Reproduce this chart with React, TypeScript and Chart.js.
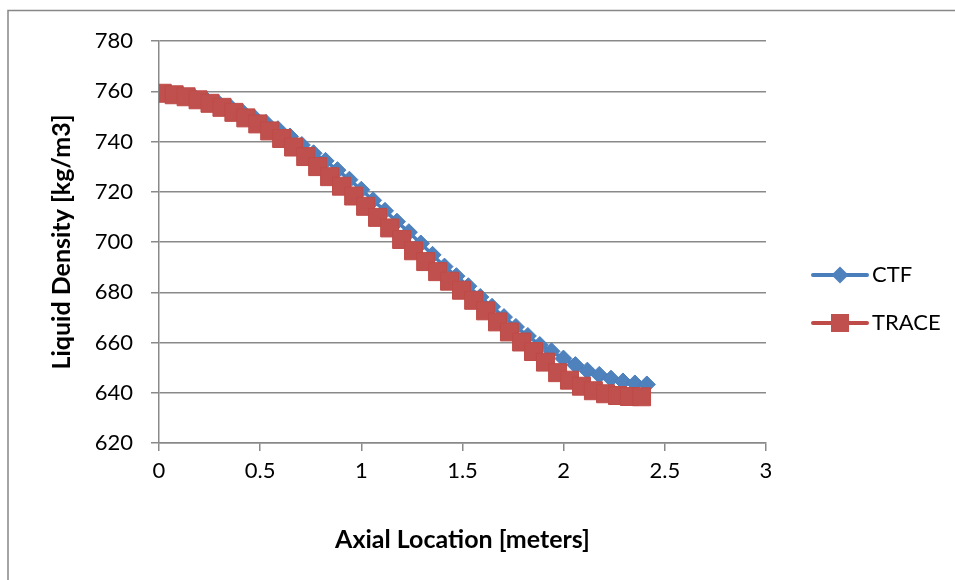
import React, { useEffect, useRef } from "react";
import { Chart, registerables } from "chart.js";

Chart.register(...registerables);

const ctfX = [0, 0.059, 0.118, 0.176, 0.235, 0.294, 0.353, 0.412, 0.470, 0.529, 0.588, 0.647, 0.706, 0.764, 0.823, 0.882, 0.941, 1.000, 1.058, 1.117, 1.176, 1.235, 1.294, 1.352, 1.411, 1.470, 1.529, 1.588, 1.646, 1.705, 1.764, 1.823, 1.882, 1.940, 1.999, 2.058, 2.117, 2.176, 2.234, 2.293, 2.352, 2.411];
const ctfY = [759.2, 758.9, 758.3, 757.5, 756.5, 755.2, 753.6, 751.7, 749.6, 747.4, 744.9, 742.0, 738.6, 735.3, 732.3, 728.6, 724.8, 720.8, 716.6, 712.4, 708.1, 703.9, 699.4, 694.9, 690.2, 686.4, 682.4, 678.1, 674.2, 670.1, 666.2, 662.6, 659.0, 656.5, 653.6, 651.0, 648.8, 647.1, 645.6, 644.5, 643.7, 643.3];

const traceX = [0.016, 0.075, 0.134, 0.193, 0.252, 0.311, 0.370, 0.429, 0.488, 0.547, 0.606, 0.665, 0.725, 0.784, 0.843, 0.902, 0.962, 1.021, 1.080, 1.140, 1.199, 1.258, 1.318, 1.377, 1.436, 1.495, 1.555, 1.614, 1.673, 1.732, 1.792, 1.851, 1.910, 1.970, 2.029, 2.088, 2.147, 2.207, 2.266, 2.325, 2.385];
const traceY = [759.2, 758.6, 757.8, 756.6, 755.2, 753.6, 751.6, 749.4, 747.0, 744.2, 741.2, 737.8, 734.0, 730.0, 726.0, 722.2, 718.3, 714.2, 709.8, 705.6, 701.0, 696.5, 692.2, 688.2, 684.4, 680.8, 676.8, 672.6, 668.2, 664.2, 660.2, 656.4, 652.2, 648.0, 645.0, 642.6, 640.8, 639.6, 638.9, 638.5, 638.4];

const seriesNames = ["CTF", "TRACE"];
const xTitle = "Axial Location [meters]";
const yTitle = "Liquid Density [kg/m3]";
const xMin = 0, xMax = 3, xStep = 0.5;
const yMin = 620, yMax = 780, yStep = 20;

const BLUE = "#4A7EBB";
const BLUE_FILL = "#4F81BD";
const RED = "#BE4B48";
const RED_FILL = "#C0504D";
const GRID = "#898989";
const FONT = "Lato, 'Open Sans', sans-serif";

export default function App() {
  const ref = useRef<HTMLCanvasElement | null>(null);

  useEffect(() => {
    if (!ref.current) return;

    const decor = {
      id: "decor",
      afterDraw(chart: any) {
        const ctx = chart.ctx;
        ctx.save();
        // outer frame (top and left visible)
        ctx.strokeStyle = "#878787";
        ctx.lineWidth = 1.5;
        ctx.beginPath();
        ctx.moveTo(8, 700);
        ctx.lineTo(8, 10.5);
        ctx.lineTo(1200, 10.5);
        ctx.stroke();

        // legend
        const items = [
          { name: seriesNames[0], color: BLUE, fill: BLUE_FILL, style: "diamond", y: 275 },
          { name: seriesNames[1], color: RED, fill: RED_FILL, style: "square", y: 323 },
        ];
        items.forEach((it) => {
          ctx.strokeStyle = it.color;
          ctx.lineWidth = 4;
          ctx.lineCap = "round";
          ctx.beginPath();
          ctx.moveTo(813, it.y);
          ctx.lineTo(867, it.y);
          ctx.stroke();
          ctx.fillStyle = it.fill;
          ctx.beginPath();
          if (it.style === "diamond") {
            const r = 8.5;
            ctx.moveTo(840 - r, it.y);
            ctx.lineTo(840, it.y - r);
            ctx.lineTo(840 + r, it.y);
            ctx.lineTo(840, it.y + r);
            ctx.closePath();
          } else {
            ctx.rect(840 - 9, it.y - 9, 18, 18);
          }
          ctx.fill();
          ctx.fillStyle = "#000";
          ctx.font = `22px ${FONT}`;
          ctx.textAlign = "left";
          ctx.textBaseline = "middle";
          ctx.fillText(it.name, 872, it.y);
        });
        ctx.restore();
      },
    };

    const chart = new Chart(ref.current, {
      type: "line",
      data: {
        datasets: [
          {
            label: seriesNames[0],
            data: ctfX.map((x, i) => ({ x, y: ctfY[i] })),
            borderColor: BLUE,
            backgroundColor: BLUE_FILL,
            borderWidth: 3.5,
            pointStyle: "rectRot",
            pointRadius: 8.5,
            pointBackgroundColor: BLUE_FILL,
            pointBorderColor: BLUE,
            pointBorderWidth: 1,
            order: 1,
          },
          {
            label: seriesNames[1],
            data: traceX.map((x, i) => ({ x, y: traceY[i] })),
            borderColor: RED,
            backgroundColor: RED_FILL,
            borderWidth: 3.5,
            pointStyle: "rect",
            pointRadius: 12.7,
            pointBackgroundColor: RED_FILL,
            pointBorderColor: RED,
            pointBorderWidth: 1,
            order: 0,
          },
        ],
      },
      options: {
        animation: false,
        responsive: false,
        maintainAspectRatio: false,
        layout: { padding: { top: 41, right: 189, left: 0, bottom: 0 } },
        plugins: {
          legend: { display: false },
          tooltip: { enabled: false },
        },
        scales: {
          x: {
            type: "linear",
            min: xMin,
            max: xMax,
            afterFit(scale: any) {
              scale.height = 137;
            },
            ticks: {
              stepSize: xStep,
              color: "#000",
              font: { family: FONT, size: 22 },
              padding: 7,
              maxRotation: 0,
              callback: (v: any) => String(Number(v)),
            },
            grid: {
              drawOnChartArea: false,
              color: GRID,
              lineWidth: 1.5,
              tickLength: 8,
            },
            border: { display: true, color: GRID, width: 1.5 },
            title: {
              display: true,
              text: xTitle,
              color: "#000",
              font: { family: FONT, size: 25, weight: "bold" },
              padding: { top: 0, bottom: 25 },
            },
          },
          y: {
            type: "linear",
            min: yMin,
            max: yMax,
            afterFit(scale: any) {
              scale.width = 159;
            },
            ticks: {
              stepSize: yStep,
              color: "#000",
              font: { family: FONT, size: 22 },
              padding: 18,
            },
            grid: {
              color: GRID,
              lineWidth: 1.5,
              tickLength: 8,
            },
            border: { display: true, color: GRID, width: 1.5 },
            title: {
              display: true,
              text: yTitle,
              color: "#000",
              font: { family: FONT, size: 25, weight: "bold" },
              padding: { top: 47, bottom: 0 },
            },
          },
        },
      },
      plugins: [decor],
    } as any);

    return () => chart.destroy();
  }, []);

  return (
    <div style={{ position: "absolute", left: 0, top: 0, width: 955, height: 580, background: "#fff" }}>
      <canvas ref={ref} width={955} height={580} style={{ display: "block", width: 955, height: 580 }} />
    </div>
  );
}
